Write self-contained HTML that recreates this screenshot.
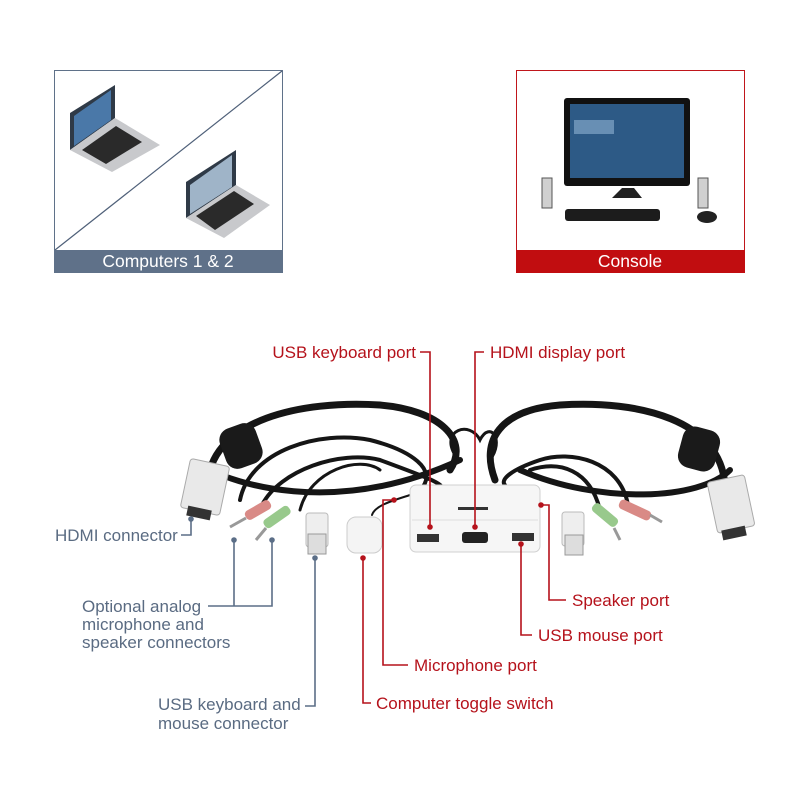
<!DOCTYPE html>
<html><head><meta charset="utf-8"><style>
html,body{margin:0;padding:0;background:#fff}
svg{display:block}
text{font-family:"Liberation Sans",Arial,sans-serif}
</style></head><body>
<svg width="800" height="800" viewBox="0 0 800 800" xmlns="http://www.w3.org/2000/svg">
<rect width="800" height="800" fill="#fff"/>
<!-- Computers box -->
<rect x="54.5" y="70.5" width="228" height="202" fill="#fff" stroke="#5f7189"/>
<line x1="55" y1="250" x2="282" y2="71" stroke="#4f6079" stroke-width="1.2"/>
<rect x="54" y="250" width="229" height="23" fill="#5f7189"/>
<text x="168" y="267" font-size="17.5" fill="#fff" text-anchor="middle">Computers 1 &amp; 2</text>
<g>
<polygon points="70,150 115,118 115,85 70,113" fill="#2f3a47"/>
<polygon points="74,146 111,120 111,90 74,116" fill="#4a78a8"/>
<polygon points="70,150 115,118 160,145 112,172" fill="#c8c9cc"/>
<polygon points="82,150 116,126 142,142 106,164" fill="#2a2a2a"/>
</g>
<g>
<polygon points="186,218 236,185 236,150 186,182" fill="#2f3a47"/>
<polygon points="190,214 232,187 232,155 190,185" fill="#9fb4c8"/>
<polygon points="186,218 236,185 270,205 224,238" fill="#c8c9cc"/>
<polygon points="196,216 234,191 254,204 215,230" fill="#2a2a2a"/>
</g>
<!-- Console box -->
<rect x="516.5" y="70.5" width="228" height="202" fill="#fff" stroke="#c0161b"/>
<rect x="516" y="250" width="229" height="23" fill="#c10d10"/>
<text x="630" y="267" font-size="17.5" fill="#fff" text-anchor="middle">Console</text>
<rect x="564" y="98" width="126" height="88" rx="3" fill="#111"/>
<rect x="570" y="104" width="114" height="74" fill="#2d5a86"/>
<rect x="574" y="120" width="40" height="14" fill="#8fb3d4" opacity="0.6"/>
<polygon points="622,188 634,188 642,198 612,198" fill="#222"/>
<rect x="542" y="178" width="10" height="30" fill="#d0d0d0" stroke="#555"/>
<rect x="698" y="178" width="10" height="30" fill="#d0d0d0" stroke="#555"/>
<rect x="565" y="209" width="95" height="12" rx="3" fill="#1c1c1c"/>
<ellipse cx="707" cy="217" rx="10" ry="6" fill="#222"/>
<!-- cables -->
<g fill="none" stroke="#151515" stroke-linecap="round">
<path d="M208,480 C215,420 300,400 380,405 C440,410 470,440 450,470" stroke-width="7"/>
<path d="M240,500 C250,450 320,430 370,440 C410,450 440,470 420,490" stroke-width="4"/>
<path d="M262,505 C280,470 340,450 380,460 C420,475 450,485 440,490" stroke-width="4"/>
<path d="M300,510 C310,470 360,455 380,470" stroke-width="3"/>
<path d="M210,470 C230,480 330,520 460,460" stroke-width="6"/>
<path d="M725,485 C720,420 640,400 560,405 C500,410 480,440 495,480" stroke-width="7"/>
<path d="M628,505 C620,460 570,450 540,460 C510,470 500,480 505,485" stroke-width="4"/>
<path d="M600,510 C590,470 560,460 530,470" stroke-width="4"/>
<path d="M730,470 C700,500 600,505 520,470" stroke-width="6"/>
<path d="M455,455 C440,430 470,420 480,440 C490,420 505,440 490,460" stroke-width="3"/>
<path d="M372,515 C375,505 395,500 410,495" stroke-width="2"/>
</g>
<rect x="222" y="425" width="38" height="42" rx="12" fill="#1a1a1a" transform="rotate(-20 241 446)"/>
<rect x="680" y="428" width="38" height="42" rx="12" fill="#1a1a1a" transform="rotate(15 699 449)"/>
<rect x="185" y="462" width="40" height="50" rx="3" fill="#e9e9e9" stroke="#aaa" transform="rotate(12 205 487)"/>
<rect x="187" y="508" width="24" height="10" fill="#333" transform="rotate(12 199 513)"/>
<rect x="712" y="478" width="38" height="52" rx="3" fill="#e9e9e9" stroke="#aaa" transform="rotate(-12 731 504)"/>
<rect x="722" y="528" width="24" height="10" fill="#333" transform="rotate(-12 734 533)"/>
<rect x="244" y="505" width="28" height="10" rx="4" fill="#d98a86" transform="rotate(-30 258 510)"/>
<rect x="262" y="512" width="30" height="10" rx="4" fill="#98c98c" transform="rotate(-35 277 517)"/>
<line x1="230" y1="527" x2="246" y2="518" stroke="#999" stroke-width="3"/>
<line x1="256" y1="540" x2="266" y2="528" stroke="#999" stroke-width="3"/>
<rect x="590" y="510" width="30" height="10" rx="4" fill="#98c98c" transform="rotate(40 605 515)"/>
<rect x="618" y="505" width="34" height="10" rx="4" fill="#d98a86" transform="rotate(25 635 510)"/>
<line x1="614" y1="528" x2="620" y2="540" stroke="#999" stroke-width="3"/>
<line x1="650" y1="515" x2="662" y2="522" stroke="#999" stroke-width="3"/>
<rect x="306" y="513" width="22" height="34" rx="3" fill="#eee" stroke="#bbb"/>
<rect x="308" y="534" width="18" height="20" fill="#ddd" stroke="#999"/>
<rect x="562" y="512" width="22" height="34" rx="3" fill="#eee" stroke="#bbb"/>
<rect x="565" y="535" width="18" height="20" fill="#ddd" stroke="#999"/>
<rect x="347" y="517" width="35" height="36" rx="9" fill="#f4f4f4" stroke="#ccc"/>
<rect x="410" y="485" width="130" height="67" rx="6" fill="#f6f6f6" stroke="#d0d0d0"/>
<line x1="412" y1="520" x2="538" y2="520" stroke="#ddd"/>
<rect x="458" y="507" width="30" height="3" fill="#333"/>
<rect x="417" y="534" width="22" height="8" fill="#333"/>
<rect x="462" y="532" width="26" height="11" rx="3" fill="#222"/>
<rect x="512" y="533" width="22" height="8" fill="#333"/>
<!-- gray connectors -->
<g stroke="#5b6e87" stroke-width="1.6" fill="none">
<path d="M181,535 H191 V519"/>
<path d="M208,606 H272 V540 M234,606 V540"/>
<path d="M305,706 H315 V558"/>
</g>
<g fill="#5b6e87"><circle cx="191" cy="519" r="2.8"/><circle cx="234" cy="540" r="2.8"/><circle cx="272" cy="540" r="2.8"/><circle cx="315" cy="558" r="2.8"/></g>
<g font-size="17" fill="#5a6b82">
<text x="55" y="541">HDMI connector</text>
<text x="82" y="612">Optional analog</text>
<text x="82" y="630">microphone and</text>
<text x="82" y="648">speaker connectors</text>
<text x="158" y="710">USB keyboard and</text>
<text x="158" y="729">mouse connector</text>
</g>
<!-- red connectors -->
<g stroke="#b5121b" stroke-width="1.6" fill="none">
<path d="M420,352 H430 V527"/>
<path d="M484,352 H475 V527"/>
<path d="M394,500 H383 V665 H408"/>
<path d="M363,558 V703 H371"/>
<path d="M521,544 V635 H532"/>
<path d="M541,505 H549 V600 H566"/>
</g>
<g fill="#b5121b"><circle cx="430" cy="527" r="2.8"/><circle cx="475" cy="527" r="2.8"/><circle cx="394" cy="500" r="2.8"/><circle cx="363" cy="558" r="2.8"/><circle cx="521" cy="544" r="2.8"/><circle cx="541" cy="505" r="2.8"/></g>
<g font-size="17" fill="#b5121b">
<text x="416" y="358" text-anchor="end">USB keyboard port</text>
<text x="490" y="358">HDMI display port</text>
<text x="572" y="606">Speaker port</text>
<text x="538" y="641">USB mouse port</text>
<text x="414" y="671">Microphone port</text>
<text x="376" y="709">Computer toggle switch</text>
</g>
</svg>
</body></html>
